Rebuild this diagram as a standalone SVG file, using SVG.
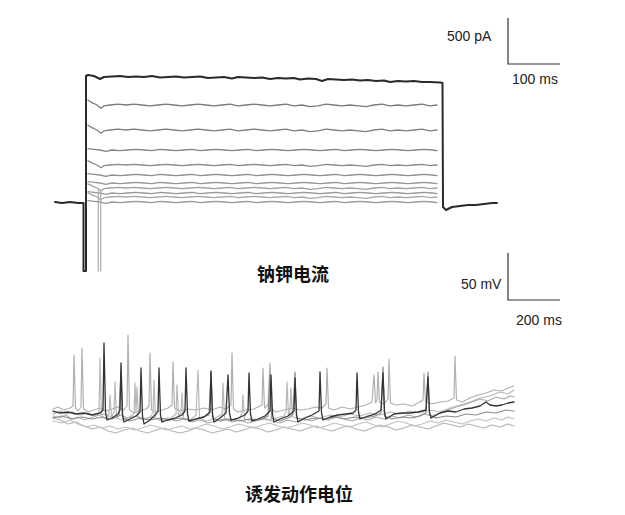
<svg xmlns="http://www.w3.org/2000/svg" xmlns:xlink="http://www.w3.org/1999/xlink" width="625" height="515" viewBox="0 0 625 515">
<style>
.tr{fill:none;stroke-linejoin:round;stroke-linecap:round}
.bar{fill:none;stroke:#333;stroke-width:1.2}
.lbl{font-family:"Liberation Sans",Arial,sans-serif;font-size:14px;fill:#222}
.cap{font-family:"Noto Sans CJK SC","Noto Sans",sans-serif;font-size:18px;font-weight:bold;fill:#111}
</style>
<defs>
<path id="p1" vector-effect="non-scaling-stroke" d="M88,-6 L92,-3 L97,0 L101,4 L104,1 L110,0 L118,-1 L126,0 L134,-1 L142,0 L150,1 L158,0 L166,-1 L174,0 L182,1 L190,0 L198,-1 L206,0 L214,1 L222,0 L230,-1 L238,1 L246,0 L254,-1 L262,0 L270,1 L278,0 L286,-1 L294,1 L302,0 L310,2 L318,1 L326,-1 L334,0 L342,1 L350,0 L358,1 L366,2 L374,0 L382,-1 L390,1 L398,0 L406,1 L414,0 L422,-1 L430,1 L437,0"/>
<path id="p2" vector-effect="non-scaling-stroke" d="M88,-2 L94,-1 L100,0 L106,2 L112,0 L120,1 L128,0 L136,-1 L144,0 L152,1 L160,-1 L168,0 L176,1 L184,0 L192,-1 L200,1 L208,0 L216,-1 L224,0 L232,1 L240,0 L248,-1 L256,1 L264,0 L272,-1 L280,0 L288,1 L296,0 L304,-1 L312,0 L320,1 L328,0 L336,-1 L344,1 L352,0 L360,-1 L368,0 L376,1 L384,0 L392,-1 L400,0 L408,1 L416,0 L424,-1 L432,0 L437,1"/>
</defs>
<rect width="625" height="515" fill="#fff"/>

<g id="current-traces" class="tr" stroke-width="1.3">
<use xlink:href="#p2" transform="translate(0,202) scale(1,0.7)" stroke="#9a9a9a"/>
<use xlink:href="#p1" transform="translate(0,197) scale(1,0.7)" stroke="#a8a8a8"/>
<use xlink:href="#p2" transform="translate(0,193) scale(1,0.7)" stroke="#9a9a9a"/>
<use xlink:href="#p1" transform="translate(0,188) scale(1,0.7)" stroke="#a0a0a0"/>
<use xlink:href="#p2" transform="translate(0,183) scale(1,0.7)" stroke="#999"/>
<use xlink:href="#p2" transform="translate(0,175) scale(1,0.7)" stroke="#8f8f8f"/>
<use xlink:href="#p1" transform="translate(0,165) scale(1,0.7)" stroke="#8a8a8a"/>
<use xlink:href="#p2" transform="translate(0,150) scale(1,0.7)" stroke="#858585"/>
<use xlink:href="#p1" transform="translate(0,130) scale(1,0.8)" stroke="#808080"/>
<use xlink:href="#p1" transform="translate(0,105) scale(1,0.8)" stroke="#7a7a7a"/>
<path d="M98.3,190 L98.3,271 M100.7,190 L100.7,271" stroke="#aaa" stroke-width="1.2"/>
<path d="M55,202 L62,203 L70,202 L78,203 L83.5,203 L83.5,271 L86,271 L86,76 L88,75 L94,76 L100,79 L104,77 L112,76.5 L120,76 L128,77 L136,76.5 L144,77 L152,76 L160,77.5 L168,77 L176,76.5 L184,77.5 L192,77 L200,76.5 L208,78 L216,77.5 L224,77 L232,78.5 L238,77 L246,77.5 L254,78 L262,77.5 L270,79 L278,78 L286,78.5 L294,78 L300,79.5 L308,78.5 L316,79 L322,81 L328,79 L336,79.5 L344,80 L352,79.5 L360,80.5 L368,80 L376,81 L384,80.5 L390,82 L398,81 L406,81.5 L414,81 L422,82 L430,82 L440,82.5 L442.5,83 L443,207 L446,210 L452,207 L460,206 L468,205 L476,205 L484,204 L492,203 L497,203" stroke="#2a2a2a" stroke-width="2"/>
</g>

<g id="scale-current">
<path class="bar" d="M508,18 L508,64 L560,64"/>
<text class="lbl" x="447" y="41">500 pA</text>
<text class="lbl" x="512" y="84">100 ms</text>
</g>

<g id="caption-current">
<text class="cap" x="293" y="281" text-anchor="middle">钠钾电流</text>
</g>

<g id="scale-voltage">
<path class="bar" d="M508,253 L508,300 L560,300"/>
<text class="lbl" x="461" y="289">50 mV</text>
<text class="lbl" x="516" y="325">200 ms</text>
</g>

<g id="voltage-traces" class="tr" stroke-width="1.2">
<path stroke="#b5b5b5" d="M53,418 L60,420 L68,424 L76,422 L84,426 L92,429 L100,427 L108,431 L116,433 L124,430 L132,428 L140,431 L148,433 L156,430 L164,428 L172,431 L180,433 L188,431 L196,428 L204,430 L212,433 L220,431 L228,429 L236,432 L244,430 L252,427 L260,429 L268,432 L276,430 L284,427 L292,429 L300,431 L308,428 L316,426 L324,429 L332,431 L340,428 L348,426 L356,429 L364,431 L372,428 L380,425 L388,427 L396,430 L404,428 L412,425 L420,427 L428,429 L436,426 L444,423 L452,425 L460,427 L468,424 L476,426 L484,428 L492,425 L500,427 L508,424 L514,426"/>
<path stroke="#c0c0c0" d="M53,421 L62,423 L70,420 L78,424 L86,427 L94,425 L102,428 L110,426 L118,429 L126,427 L134,430 L142,428 L150,425 L158,427 L166,430 L174,428 L182,426 L190,429 L198,427 L206,424 L214,426 L222,429 L230,427 L238,424 L246,426 L254,428 L262,425 L270,423 L278,426 L286,428 L294,426 L302,423 L310,425 L318,428 L326,426 L334,423 L342,425 L350,427 L358,424 L366,422 L374,425 L382,427 L390,424 L398,421 L406,423 L414,426 L422,424 L430,421 L438,423 L446,420 L454,422 L462,424 L470,421 L478,419 L486,421 L494,418 L502,420 L508,417 L514,419"/>
<path stroke="#aaa" d="M53,414 L60,411 L66,414 L72,412 L80,415 L88,413 L96,416 L104,414 L112,417 L120,415 L128,418 L136,416 L144,419 L152,417 L160,420 L168,418 L176,421 L184,419 L192,422 L200,420 L208,423 L216,421 L224,419 L232,422 L240,420 L248,423 L256,421 L264,418 L272,421 L280,423 L288,420 L296,422 L304,419 L312,421 L320,418 L328,420 L336,417 L344,419 L352,421 L360,418 L368,420 L376,417 L384,419 L392,416 L400,418 L408,415 L416,417 L424,414 L432,416 L440,413 L448,410 L456,407 L464,405 L472,402 L480,399 L488,401 L496,397 L504,399 L510,396 L514,397"/>
<path stroke="#b8b8b8" d="M53,416 L60,418 L66,415 L72,419 L78,417 L84,420 L90,418 L96,416 L99,413 L100,358 L101.5,416 L106,419 L109,414 L110,395 L111.5,417 L114,412 L115,382 L116.5,418 L122,420 L128,418 L134,414 L135,383 L136,412 L137,387 L138.5,418 L144,420 L150,417 L153,413 L154,380 L155.5,418 L162,421 L170,419 L176,414 L177,385 L178.5,416 L181,413 L182,393 L183.5,418 L190,420 L196,415 L198,370 L199.5,418 L206,421 L214,419 L222,414 L223,383 L224.5,418 L232,421 L240,418 L242,413 L243,395 L244.5,419 L252,421 L260,419 L268,420 L276,418 L284,416 L286,412 L287,382 L288.5,415 L290,410 L291,388 L292.5,417 L300,419 L310,416 L320,418 L330,415 L340,417 L350,414 L360,416 L370,413 L380,415 L390,412 L400,414 L410,411 L420,413 L430,410 L440,412 L450,408 L460,405 L470,402 L480,398 L490,396 L500,392 L508,394 L514,390"/>
<path stroke="#b0b0b0" d="M53,409 L58,407 L64,410 L70,408 L73,406 L74,355 L75.5,408 L78,411 L81,407 L82,348 L83.5,409 L88,412 L94,410 L100,408 L106,411 L112,409 L118,407 L124,410 L127,406 L128,335 L129.5,410 L134,413 L140,411 L146,409 L149,406 L150,353 L151.5,410 L156,412 L162,410 L168,408 L172,405 L173,362 L174.5,408 L180,411 L188,409 L196,410 L204,408 L212,410 L220,407 L226,409 L231,405 L232,353 L233.5,409 L238,412 L246,410 L254,409 L262,405 L263,368 L264.5,408 L268,405 L270,363 L271.5,409 L276,412 L284,410 L292,408 L300,410 L308,409 L316,407 L322,408 L326,404 L327,368 L328.5,408 L334,410 L342,407 L350,409 L358,407 L366,405 L372,402 L374,375 L375.5,403 L377,400 L378,372 L379.5,402 L384,404 L388,399 L389,359 L390.5,403 L396,405 L404,404 L412,406 L418,403 L423,400 L424,373 L425.5,402 L432,404 L440,402 L448,401 L454,398 L455,356 L456.5,400 L462,402 L470,398 L478,395 L486,393 L494,390 L502,391 L508,388 L514,386"/>
<path stroke="#8c8c8c" d="M53,418 L62,416 L72,419 L82,417 L92,419 L102,417 L112,419 L119,416 L121,370 L122.5,418 L130,421 L140,418 L150,420 L160,418 L170,420 L180,418 L190,420 L200,418 L209,415 L211,372 L212.5,418 L220,421 L230,419 L240,421 L250,419 L260,420 L268,416 L270,375 L271.5,418 L280,421 L290,417 L293,414 L295,372 L296.5,418 L305,420 L315,418 L325,419 L335,417 L345,419 L355,417 L365,418 L375,416 L381,413 L383,367 L384.5,416 L392,419 L402,417 L412,418 L420,416 L426,413 L428,372 L429.5,415 L436,418 L446,416 L456,417 L466,414 L476,415 L486,412 L496,413 L506,410 L514,411"/>
<path stroke="#333" stroke-width="1.3" d="M53,411 L60,413 L68,412 L76,414 L84,413 L92,415 L100,413 L103,410 L104,343 L105.5,412 L107,420 L112,418 L118,414 L120,410 L121,363 L122.5,414 L124,422 L130,419 L136,416 L140,412 L141,368 L142.5,416 L144,424 L150,420 L156,414 L158,411 L159,368 L160.5,415 L162,422 L168,420 L175,418 L182,415 L185,411 L186,368 L187.5,414 L189,421 L196,419 L204,417 L210,412 L211,371 L212.5,414 L214,422 L220,418 L226,413 L228,375 L229.5,413 L231,420 L238,418 L245,415 L248,411 L249,373 L250.5,414 L252,421 L258,419 L265,416 L270,411 L271,375 L272.5,414 L274,422 L280,419 L288,416 L294,411 L295,378 L296.5,414 L298,422 L305,418 L312,415 L319,411 L320,372 L321.5,413 L323,420 L330,417 L338,415 L346,414 L353,413 L356,410 L357,373 L358.5,412 L360,419 L368,416 L375,414 L381,410 L383,373 L384.5,412 L386,419 L394,414 L402,413 L410,413 L418,412 L426,410 L428,377 L429.5,412 L431,418 L440,413 L448,411 L456,412 L464,409 L472,408 L480,406 L486,402 L490,405 L496,406 L502,405 L508,403 L514,402"/>
</g>

<g id="caption-voltage">
<text class="cap" x="299" y="501" text-anchor="middle">诱发动作电位</text>
</g>
</svg>
